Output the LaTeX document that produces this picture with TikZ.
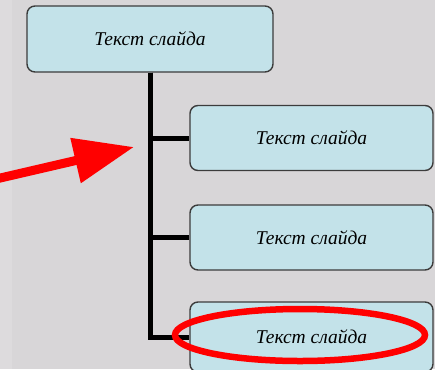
\documentclass[tikz,border=0pt]{standalone}
\usepackage{fontspec}
\setmainfont{Liberation Serif}
\usetikzlibrary{arrows.meta,shapes.geometric}
\definecolor{bg}{HTML}{D8D6D8}
\definecolor{bgl}{HTML}{DDDBDD}
\definecolor{boxfill}{HTML}{C3E2E9}
\definecolor{boxline}{HTML}{3C3C3C}
\definecolor{redmark}{HTML}{FF0000}
\tikzset{
  slidebox/.style={draw=boxline, line width=1.4pt, fill=boxfill, rounded corners=8pt,
    minimum width=245pt, minimum height=66pt, inner sep=0pt,
    font=\fontsize{19.5}{22}\selectfont\itshape},
  link/.style={line width=5pt, black},
  pointer/.style={line width=9pt, color=redmark, -{Triangle[length=60pt,width=44pt]}},
  ring/.style={draw=redmark, line width=6.5pt, ellipse, minimum width=250pt, minimum height=52pt}
}
\begin{document}
\begin{tikzpicture}[x=1pt,y=-1pt]
\useasboundingbox (0,0) rectangle (435,369);
\clip (0,0) rectangle (435,369);
\fill[bg] (0,0) rectangle (435,369);
\fill[bgl] (0,0) rectangle (12,369);
\node[slidebox, minimum width=246pt] (top) at (150,39) {Текст слайда};
\node[slidebox, minimum width=243pt, minimum height=65pt] (b2) at (311.5,138) {Текст слайда};
\node[slidebox, minimum width=243pt, minimum height=65pt] (b3) at (311.5,237.5) {Текст слайда};
\node[slidebox, minimum width=243pt, minimum height=70pt] (b4) at (311.5,337) {Текст слайда};
\draw[link] (top.south) |- (b4.west);
\draw[link] (top.south) |- (b2.west);
\draw[link] (top.south) |- (b3.west);
\node[ring] (r) at (300,335) {};
\coordinate (from) at (-4,179);
\coordinate (tip) at (134,147);
\draw[pointer] (from) -- (tip);
\end{tikzpicture}
\end{document}
